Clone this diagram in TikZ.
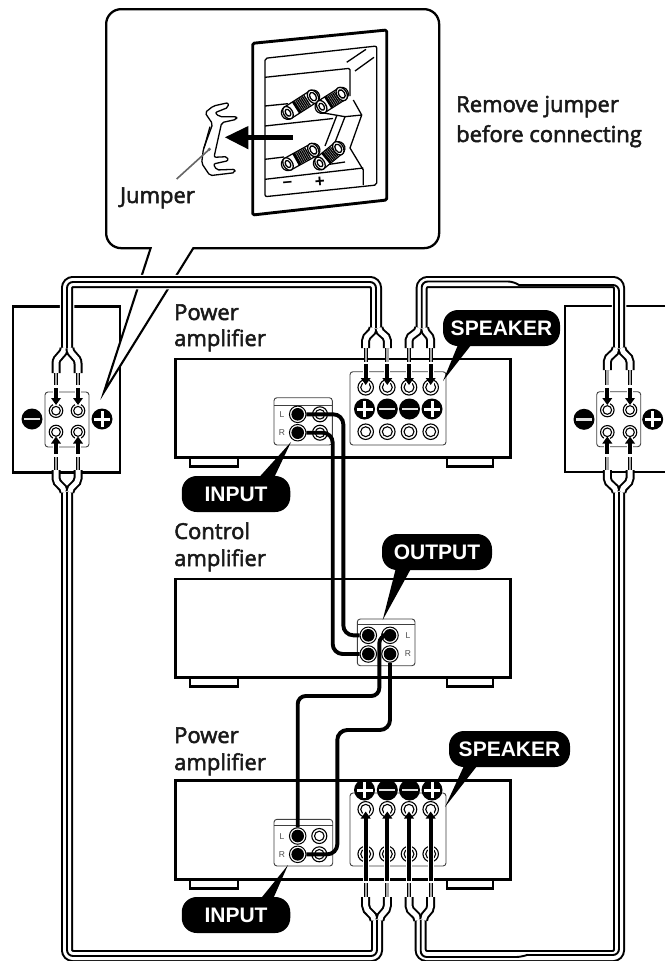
\documentclass[tikz,border=0pt]{standalone}
\usepackage{fontspec}
\setmainfont{Liberation Sans}
\newfontfamily\labfont[FakeBold=2.4]{Open Sans}
\usetikzlibrary{calc,arrows.meta}
\tikzset{
  line/.style={draw=black,line width=2.3},
  ampbox/.style={draw=black,line width=2.5,fill=white},
  plate/.style={draw=black!75,line width=.9,rounded corners=3,fill=white},
  disc/.style={circle,fill=black,minimum size=21,inner sep=0},
  jackr/.style={circle,draw=black,line width=1.1,minimum size=#1,inner sep=0,fill=white},
  bubble/.style={rounded corners=15,fill=black,text=white,font=\fontsize{21}{21}\selectfont\bfseries,minimum height=36,inner sep=0,align=center},
  lab/.style={anchor=base west,inner sep=0,text=black!90,font=\fontsize{22}{22}\selectfont\labfont},
  tiny/.style={inner sep=0,text=black!70,font=\fontsize{8.5}{8.5}\selectfont},
  twinbase/.style={draw=white,line width=8,rounded corners=6,preaction={draw=white,line width=14.5},preaction={draw=black,line width=12}},
  mid/.style={draw=black,line width=1.9,rounded corners=6},
  tube/.style={draw=black,line width=2,double=white,double distance=5},
  bare/.style={draw=black,line width=.9,double=black!35,double distance=2.4},
  pinwire/.style={draw=black,line width=3.8,-{Triangle[width=9.5pt,length=7pt]}},
  pinhalo/.style={draw=white,line width=6},
  rca/.style={draw=black,line width=3.9,rounded corners=10},
  thin/.style={draw=black,line width=1.3,line join=round},
  thick/.style={draw=black,line width=2.6,line join=round,rounded corners=1.5},
}
\newcommand\discplus[3]{\node[disc] (#1) at (#2,#3) {};
  \fill[white] ($(#1)+(-8,-1.5)$) rectangle ($(#1)+(8,1.5)$);
  \fill[white] ($(#1)+(-1.5,-8)$) rectangle ($(#1)+(1.5,8)$);}
\newcommand\discminus[3]{\node[disc] (#1) at (#2,#3) {};
  \fill[white!88!black] ($(#1)+(-8,-1.2)$) rectangle ($(#1)+(8,1.2)$);}
\newcommand\jack[4]{\node[jackr=#4] (#1) at (#2,#3) {};
  \draw[black,line width=1.1] (#1) circle ({#4*.32});}
\newcommand\bjack[3]{\node[circle,draw=black,line width=1,minimum size=16.5,inner sep=0,fill=white] (#1) at (#2,#3) {};
  \fill[black] (#1) circle (6.3);}
% #1 stem  #2,#3 jacks  #4 junction y  #5 tube end y  #6 bare end y  #7 arrow start y  #8 arrow tip y
\newcommand\fork[8]{%
  \pgfmathsetmacro\fkm{#4+(#5-#4)*.62}\pgfmathsetmacro\fkc{(#5-#4)*.3}%
  \draw[tube] ($(#1 |- 0,#4)+(-2.9,0)$) .. controls +(0,\fkc) and +(0,{-\fkc}) .. (#2 |- 0,\fkm) -- (#2 |- 0,#5);
  \draw[tube] ($(#1 |- 0,#4)+(2.9,0)$) .. controls +(0,\fkc) and +(0,{-\fkc}) .. (#3 |- 0,\fkm) -- (#3 |- 0,#5);
  \draw[bare] (#2 |- 0,#5) -- (#2 |- 0,#6);
  \draw[bare] (#3 |- 0,#5) -- (#3 |- 0,#6);
  \draw[pinhalo] (#2 |- 0,#7) -- (#2 |- 0,#8);
  \draw[pinhalo] (#3 |- 0,#7) -- (#3 |- 0,#8);
  \draw[pinwire] (#2 |- 0,#7) -- (#2 |- 0,#8);
  \draw[pinwire] (#3 |- 0,#7) -- (#3 |- 0,#8);}
% binding post in the inset: back (#1,#2), front (#3,#4), px units
\newcommand\post[4]{%
  \coordinate (pa) at (#1,#2); \coordinate (pb) at (#3,#4);
  \draw[black,line width=14.5,line cap=round] (pa) -- (pb);
  \draw[white,line width=11.8,line cap=round] (pa) -- (pb);
  \draw[black,line width=12,dash pattern=on 1.3 off .6] ($(pa)!.36!(pb)$) -- ($(pa)!.8!(pb)$);
  \draw[black,line width=13,dash pattern=on 2.6 off 40] ($(pa)!.3!(pb)$) -- ($(pa)!.5!(pb)$);
  \draw[thin,fill=white,rotate around={32:(pb)}] (pb) ellipse (5 and 7.2);
  \draw[thin,rotate around={32:(pb)}] (pb) ellipse (3 and 4.6);
  \draw[thin,fill=white,rotate around={32:(pa)}] (pa) ellipse (4.5 and 6.8);
  \draw[thin,rotate around={32:(pa)}] (pa) ellipse (2.4 and 3.8);}
\begin{document}
\begin{tikzpicture}[x=1pt,y=-1pt]
\useasboundingbox (0,0) rectangle (665,961);
\clip (0,0) rectangle (665,961);
\fill[white] (0,0) rectangle (665,961);

%% speaker boxes
\draw[line] (13,306.5) rectangle (120,472.5);
\draw[line] (665,306) -- (565,306) -- (565,472) -- (665,472);

%% amplifiers
\foreach \yt/\yb/\n in {357.5/456/A,577.5/676/B,779/878/C}{
  \draw[line] (190,\yb) rectangle (238,\yb+10.5);
  \draw[line] (446.7,\yb) rectangle (493,\yb+10.5);
  \node[ampbox,anchor=north west,minimum width=335,minimum height=\yb-\yt,inner sep=0] (amp\n) at (174,\yt) {};
}

%% left speaker terminals
\draw[plate] (45,392) rectangle (89,447);
\jack{ll1}{56}{410.7}{13.5}\jack{lr1}{78}{410.7}{13.5}\jack{ll2}{56}{432}{13.5}\jack{lr2}{78}{432}{13.5}
\discminus{lminus}{32}{419}\discplus{lplus}{102}{419}
%% right speaker terminals
\draw[plate] (596.7,391.7) rectangle (640.7,446.7);
\jack{rl1}{607.3}{410}{13.5}\jack{rr1}{630}{410}{13.5}\jack{rl2}{607.3}{432.3}{13.5}\jack{rr2}{630}{432.3}{13.5}
\discminus{rminus}{584}{419.3}\discplus{rplus}{652.7}{419.3}

%% upper amp speaker panel
\draw[plate] (350,371.7) rectangle (446,445);
\jack{ta1}{365.7}{387.3}{15.5}\jack{ta2}{387.3}{387.3}{15.5}\jack{ta3}{409}{387.3}{15.5}\jack{ta4}{430.7}{387.3}{15.5}
\jack{tb1}{365.7}{431.7}{15.5}\jack{tb2}{387.3}{431.7}{15.5}\jack{tb3}{409}{431.7}{15.5}\jack{tb4}{430.7}{431.7}{15.5}
\discplus{d1}{364.5}{409}\discminus{d2}{387.3}{409}\discminus{d3}{409.5}{409}\discplus{d4}{432}{409}

%% lower amp speaker panel
\draw[plate] (350,793) rectangle (446,866);
\discplus{e1}{364.5}{790}\discminus{e2}{387.3}{790}\discminus{e3}{409.5}{790}\discplus{e4}{432}{790}
\jack{ca1}{365.7}{809.3}{15.5}\jack{ca2}{387.3}{809.3}{15.5}\jack{ca3}{409}{809.3}{15.5}\jack{ca4}{430.7}{809.3}{15.5}
\jack{cb1}{365.7}{854}{15.5}\jack{cb2}{387.3}{854}{15.5}\jack{cb3}{409}{854}{15.5}\jack{cb4}{430.7}{854}{15.5}

%% line panels
\draw[plate] (274,397.7) rectangle (332.3,445);
\draw[black!75,line width=.8] (274,405) -- (332.3,405);
\bjack{il}{297.7}{414.3}\bjack{ir}{297.7}{432.7}
\jack{il2}{320}{414.3}{15}\jack{ir2}{320}{432.7}{15}
\node[tiny] (tl) at (282,415) {L}; \node[tiny] (tr) at (282,433) {R};

\draw[plate] (357.3,619) rectangle (415,665.7);
\draw[black!75,line width=.8] (357.3,624) -- (415,624);
\bjack{ol}{368.3}{635.3}\bjack{or}{368.3}{654}\bjack{ol2}{390}{635.3}\bjack{or2}{390}{654}
\node[tiny] (ul) at (408,636) {L}; \node[tiny] (ur) at (408,653.5) {R};

\draw[plate] (274,819.3) rectangle (332.7,866);
\draw[black!75,line width=.8] (274,825) -- (332.7,825);
\bjack{jl}{297.7}{836}\bjack{jr}{297.7}{854.3}
\jack{jl2}{319.3}{836}{15}\jack{jr2}{319.3}{854.3}{15}
\node[tiny] (vl) at (282,837) {L}; \node[tiny] (vr) at (282,855) {R};

%% RCA cords
\draw[rca] (il) -- (343.3,414.3) -- (343.3,635.3) -- (ol);
\draw[rca] (ir) -- (332.7,432.7) -- (332.7,654) -- (or);
\draw[rca,rounded corners=8] (ol2) -- (379.3,635.3) -- (379.3,696) -- (297.7,696) -- (jl);
\draw[rca] (or2) -- (390,730) -- (337.3,730) -- (337.3,854.3) -- (jr);

%% callout
\node[draw=black,line width=2.3,rounded corners=15,fill=white,minimum width=333,minimum height=239,inner sep=0,anchor=north west] (callout) at (105,8) {};
\coordinate (ta) at (151,247); \coordinate (tb) at (194,247); \coordinate (tip) at (104,392);
\fill[white] (ta) -- (tip) -- (tb) -- cycle;
\draw[draw=black,line width=2.1,line join=miter] (ta) -- (tip) -- (tb);
\fill[white] (148,245) rectangle (197,246.9);

%% inset panel
\draw[thick,line width=2.9] (252.7,43.3) -- (386.7,30) -- (386.7,200) -- (252.7,215) -- cycle;
\draw[thin,rounded corners=2] (265,58.3) -- (376.7,46) -- (376.7,185) -- (265,196.7) -- cycle;
\draw[thin,rounded corners=1.5] (265,77.3) -- (350,68.3) -- (350,96);
\draw[thin] (346.7,62.3) -- (366,49.3) (355,71) -- (374,57.3);
\draw[thin] (265,106) -- (288,103.7) (265,126) -- (333,118.5) (265,159.3) -- (284,157) (265,179.3) -- (363.3,168);
\draw[thin] (353.3,100) -- (361.7,115) -- (350,148) -- (363.3,170) -- (363.3,185);
\draw[thin] (345,116.7) -- (361.7,115) (345,116.7) -- (332,150) (337,115) -- (325,146);
\draw[thin] (318,112) -- (345,116.7) (318,166) -- (345,162);
\post{288}{112.7}{313}{96.7}
\post{321.7}{106.7}{341.7}{94}
\post{288}{164}{313.3}{150}
\post{320}{163.3}{338.3}{148.3}
\node[inner sep=0,font=\fontsize{17}{17}\selectfont\bfseries,rotate=5] (pm) at (287.5,184.5) {--};
\node[inner sep=0,font=\fontsize{17}{17}\selectfont\bfseries,rotate=5] (pp) at (320,182) {+};

%% removed jumper
\begin{scope}[shift={(100,0)},x=.3333pt,y=-.3333pt]
\draw[thin,fill=white,rounded corners=2] (385,308) -- (340,318) -- (315,338) -- (338,372) -- (310,448) -- (305,490) -- (330,527) -- (405,518) -- (405,508) -- (350,510) -- (340,492) -- (385,482) -- (382,470) -- (342,472) -- (365,368) -- (410,358) -- (410,350) -- (358,350) -- (345,338) -- (385,322) -- cycle;
\draw[thin] (330,380) -- (312,445);
\fill[black] (580,404) rectangle (440,420);
\fill[black] (375,412) -- (445,378) -- (445,448) -- cycle;
\coordinate (lead) at (328,448); \coordinate (leadend) at (230,537);
\end{scope}
\draw[black!60,line width=1.6] (leadend) -- (lead);
\fill[black!60] (lead) circle (1.8);

%% twin cables
\coordinate (s1) at (67,348); \coordinate (s2) at (376,328);
\coordinate (s3) at (421.7,328); \coordinate (s4) at (619,348);
\coordinate (s5) at (67,492); \coordinate (s6) at (377,920);
\coordinate (s7) at (420.7,920); \coordinate (s8) at (619,492);
\draw[twinbase] (s1) -- (67,282) -- (376,282) -- (s2);
\draw[mid] (s1) -- (67,282) -- (376,282) -- (s2);
\draw[twinbase] (s3) -- (421.7,282) -- (619,282) -- (s4);
\draw[mid] (s3) -- (421.7,281.5) -- (514,281.5) [sharp corners] -- (519,285) [rounded corners=6] -- (619,285) -- (s4);
\draw[twinbase] (s5) -- (67,956) -- (377,956) -- (s6);
\draw[mid] (s5) -- (67,956) -- (377,956) -- (s6);
\draw[twinbase] (s7) -- (420.7,956) -- (619,956) -- (s8);
\draw[mid] (s7) -- (420.7,957) -- (522,957) [sharp corners] -- (527,955) [rounded corners=6] -- (619,955) -- (s8);

\fork{s1}{ll1}{lr1}{348}{373}{385}{388}{405}
\fork{s2}{ta1}{ta2}{328}{348}{362}{364}{385}
\fork{s3}{ta3}{ta4}{328}{348}{362}{364}{385}
\fork{s4}{rl1}{rr1}{348}{370}{385}{388}{405}
\fork{s5}{ll2}{lr2}{492}{470}{457}{454}{436.5}
\fork{s8}{rl2}{rr2}{492}{470}{457}{454}{436.5}
\fork{s6}{ca1}{ca2}{920}{897}{883}{881}{811.5}
\fork{s7}{ca3}{ca4}{920}{897}{883}{881}{811.5}

%% bubbles
\node[bubble,minimum width=117] (spk1) at (501.5,328) {SPEAKER};
\coordinate (a1) at (460,340); \coordinate (a2) at (475,340); \coordinate (a3) at (443,381);
\fill[black] (a1) -- (a3) -- (a2) -- cycle;
\node[bubble,minimum width=110] (out) at (437,552) {OUTPUT};
\coordinate (b1) at (396.7,565); \coordinate (b2) at (413,565); \coordinate (b3) at (382.7,620);
\fill[black] (b1) -- (b3) -- (b2) -- cycle;
\node[bubble,minimum width=108.5] (inp1) at (236,494) {INPUT};
\coordinate (c1) at (256.7,480); \coordinate (c2) at (273,480); \coordinate (c3) at (291,442);
\fill[black] (c1) -- (c3) -- (c2) -- cycle;
\node[bubble,minimum width=121] (spk2) at (509.5,749) {SPEAKER};
\coordinate (d1a) at (466.7,760); \coordinate (d2a) at (481.7,760); \coordinate (d3a) at (445,807);
\fill[black] (d1a) -- (d3a) -- (d2a) -- cycle;
\node[bubble,minimum width=108.5] (inp2) at (236,915) {INPUT};
\coordinate (e1a) at (258,902); \coordinate (e2a) at (271.7,902); \coordinate (e3a) at (288,865);
\fill[black] (e1a) -- (e3a) -- (e2a) -- cycle;

%% labels
\node[lab] (t1) at (174,320) {Power};
\node[lab] (t2) at (174,346) {amplifier};
\node[lab] (t3) at (174,539) {Control};
\node[lab] (t4) at (174,566) {amplifier};
\node[lab] (t5) at (174,743) {Power};
\node[lab] (t6) at (174,770) {amplifier};
\node[lab] (t7) at (456,112) {Remove jumper};
\node[lab] (t8) at (456,142) {before connecting};
\node[lab] (t9) at (120,203) {Jumper};
\end{tikzpicture}
\end{document}
